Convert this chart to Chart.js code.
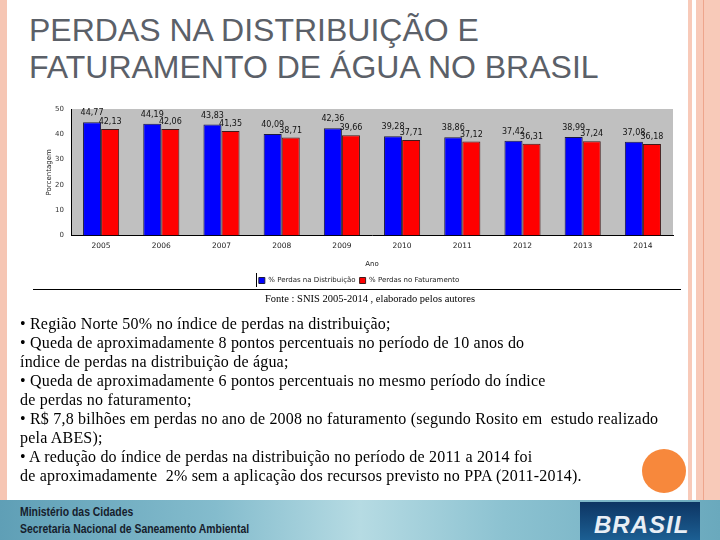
<!DOCTYPE html>
<html>
<head>
<meta charset="utf-8">
<script src="https://cdn.jsdelivr.net/npm/chart.js@4.4.1/dist/chart.umd.min.js"></script>
<style>
  body { margin: 0; width: 720px; height: 540px; overflow: hidden; background: #fff; position: relative; }
  .abs { position: absolute; }
  #title { left: 29px; top: 12px; font-family: "Liberation Sans", Arial, sans-serif; font-size: 32px; line-height: 37px; color: #5b6068; }
  #chartBox { left: 45px; top: 100px; width: 645px; height: 194px; }
  #fonte { left: 170px; width: 400px; top: 293px; text-align: center; font-family: "Liberation Serif", serif; font-size: 10.5px; color: #000; }
  #bullets { left: 20px; top: 314px; font-family: "Liberation Serif", serif; font-size: 16px; letter-spacing: 0.2px; line-height: 19px; color: #000; }
  #footer { left: 0; top: 500px; width: 720px; height: 40px;
    background: linear-gradient(90deg, #5f9fb6 0%, #84bccd 30%, #b6dbe3 50%, #8cc2d1 70%, #6aa9bd 100%); }
  #footer .txt { position: absolute; left: 20px; font-family: "Liberation Sans", sans-serif; font-weight: bold; font-size: 13px; color: #16202c; transform: scaleX(0.8); transform-origin: left top; white-space: nowrap; }
  #logo { left: 580px; top: 502px; width: 120px; height: 38px; background: linear-gradient(180deg, #0d3563, #1c5f93); overflow: hidden; }
  #logo span { position: absolute; left: 14px; top: 9px; font-family: "Liberation Sans", sans-serif; font-style: italic; font-weight: bold; font-size: 24px; color: #e8eef5; letter-spacing: 1px; }
</style>
</head>
<body>
<div class="abs" style="left:0;top:0;width:7px;height:500px;background:#f6c6b4"></div>
<div class="abs" style="left:688px;top:0;width:4px;height:500px;background:#f8cab9"></div>
<div class="abs" style="left:696px;top:0;width:7px;height:500px;background:#f8cab9"></div>
<div class="abs" style="left:703px;top:0;width:1px;height:500px;background:#eea58c"></div>
<div class="abs" style="left:704px;top:0;width:16px;height:500px;background:#f8cab9"></div>

<div id="title" class="abs">PERDAS NA DISTRIBUIÇÃO E<br>FATURAMENTO DE ÁGUA NO BRASIL</div>

<div id="chartBox" class="abs"><canvas id="perdasChart"></canvas></div>
<div class="abs" style="left:33px;top:289px;width:648px;height:1px;background:#000"></div>
<div id="fonte" class="abs">Fonte : SNIS 2005-2014 , elaborado pelos autores</div>

<div id="bullets" class="abs">
• Região Norte 50% no índice de perdas na distribuição;<br>
• Queda de aproximadamente 8 pontos percentuais no período de 10 anos do<br>
índice de perdas na distribuição de água;<br>
• Queda de aproximadamente 6 pontos percentuais no mesmo período do índice<br>
de perdas no faturamento;<br>
• R$ 7,8 bilhões em perdas no ano de 2008 no faturamento (segundo Rosito em&nbsp; estudo realizado<br>
pela ABES);<br>
• A redução do índice de perdas na distribuição no período de 2011 a 2014 foi<br>
de aproximadamente&nbsp; 2% sem a aplicação dos recursos previsto no PPA (2011-2014).
</div>

<div class="abs" style="left:642px;top:449px;width:44px;height:44px;border-radius:50%;background:#f7883c"></div>

<div id="footer" class="abs">
  <div class="txt" style="top:4px">Ministério das Cidades</div>
  <div class="txt" style="top:21px">Secretaria Nacional de Saneamento Ambiental</div>
</div>
<div id="logo" class="abs"><span>BRASIL</span></div>

<script>
// dados (SNIS 2005-2014)
const anos = ["2005", "2006", "2007", "2008", "2009", "2010", "2011", "2012", "2013", "2014"];
const perdasDistribuicao = [44.77, 44.19, 43.83, 40.09, 42.36, 39.28, 38.86, 37.42, 38.99, 37.08];
const perdasFaturamento = [42.13, 42.06, 41.35, 38.71, 39.66, 37.71, 37.12, 36.31, 37.24, 36.18];
const ticksY = [0, 10, 20, 30, 40, 50];

// fundo cinza da área do gráfico
const fundoCinza = {
  id: "fundoCinza",
  beforeDraw(chart) {
    const { ctx, chartArea } = chart;
    ctx.save();
    ctx.fillStyle = "#c0c0c0";
    ctx.fillRect(chartArea.left, chartArea.top, chartArea.right - chartArea.left, chartArea.bottom - chartArea.top);
    ctx.restore();
  },
  afterDraw(chart) {
    // traço vertical à esquerda da legenda
    const box = chart.legend.legendHitBoxes[0];
    if (!box) return;
    const ctx = chart.ctx;
    ctx.save();
    ctx.strokeStyle = "#000";
    ctx.lineWidth = 1;
    ctx.beginPath();
    ctx.moveTo(Math.round(box.left) - 2.5, box.top - 4);
    ctx.lineTo(Math.round(box.left) - 2.5, box.top + box.height + 3);
    ctx.stroke();
    ctx.restore();
  },
};

// rótulos com vírgula acima das barras
const rotulos = {
  id: "rotulos",
  afterDatasetsDraw(chart) {
    const ctx = chart.ctx;
    ctx.save();
    ctx.font = "8px 'DejaVu Sans', sans-serif";
    ctx.fillStyle = "#111";
    ctx.textAlign = "center";
    ctx.textBaseline = "bottom";
    chart.data.datasets.forEach((ds, i) => {
      const meta = chart.getDatasetMeta(i);
      meta.data.forEach((bar, j) => {
        const txt = ds.data[j].toFixed(2).replace(".", ",");
        ctx.fillText(txt, bar.x, bar.y - (i === 0 ? 5 : 3));
      });
    });
    ctx.restore();
  },
};

function renderPerdasChart() {
  const ctx = document.getElementById("perdasChart").getContext("2d");
  new Chart(ctx, {
    type: "bar",
    data: {
      labels: anos,
      datasets: [
        {
          label: "% Perdas na Distribuição",
          data: perdasDistribuicao,
          backgroundColor: "#0000ff",
          borderColor: "#1a1a40",
          borderWidth: 1,
          categoryPercentage: 0.6,
          barPercentage: 1.0,
        },
        {
          label: "% Perdas no Faturamento",
          data: perdasFaturamento,
          backgroundColor: "#ff0000",
          borderColor: "#401a1a",
          borderWidth: 1,
          categoryPercentage: 0.6,
          barPercentage: 1.0,
        },
      ],
    },
    options: {
      responsive: true,
      maintainAspectRatio: false,
      animation: false,
      layout: { padding: { top: 9, right: 17, bottom: 0, left: 0 } },
      plugins: {
        legend: {
          position: "bottom",
          labels: {
            boxWidth: 6,
            boxHeight: 6,
            padding: 4,
            color: "#222",
            font: { size: 7, family: "'DejaVu Sans', sans-serif" },
          },
        },
        tooltip: { enabled: false },
      },
      scales: {
        x: {
          grid: { display: false, drawTicks: false },
          border: { color: "#000" },
          ticks: { color: "#222", padding: 6, font: { size: 7.5, family: "'DejaVu Sans', sans-serif" } },
          title: { display: true, text: "Ano", color: "#222", padding: { top: 3, bottom: 5 }, font: { size: 7, family: "'DejaVu Sans', sans-serif" } },
        },
        y: {
          min: 0,
          max: 50,
          afterBuildTicks: (scale) => { scale.ticks = ticksY.map((v) => ({ value: v })); },
          afterFit: (scale) => { scale.width = 26; },
          grid: { display: false, drawTicks: true, tickLength: 3, tickColor: "#000" },
          border: { color: "#000" },
          ticks: { color: "#333", padding: 4, font: { size: 7, family: "'DejaVu Sans', sans-serif" } },
          title: { display: true, text: "Porcentagem", color: "#222", padding: 0, font: { size: 7, family: "'DejaVu Sans', sans-serif" } },
        },
      },
    },
    plugins: [fundoCinza, rotulos],
  });
}

renderPerdasChart();
</script>
</body>
</html>
